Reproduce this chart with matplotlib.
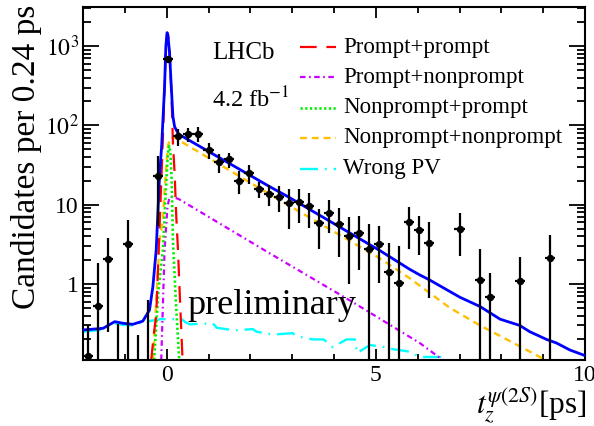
import numpy as np
import matplotlib
matplotlib.use("Agg")
import matplotlib.pyplot as plt
from matplotlib.ticker import LogLocator, NullFormatter, MultipleLocator

plt.rcParams['font.family'] = ['Liberation Serif', 'DejaVu Serif']
plt.rcParams['mathtext.fontset'] = 'stix'
plt.rcParams['lines.scale_dashes'] = False

# ---------------- data ----------------
bin_centers = [-1.88, -1.64, -1.40, -1.16, -0.92, -0.68, -0.44, -0.20, 0.04, 0.28,
               0.52, 0.76, 1.00, 1.24, 1.48, 1.72, 1.96, 2.20, 2.44, 2.68,
               2.92, 3.16, 3.40, 3.64, 3.88, 4.12, 4.36, 4.60, 4.84, 5.08,
               5.32, 5.56, 5.80, 6.04, 6.28, 7.00, 7.48, 7.72, 8.44, 9.16]
counts = [0.125, 0.53, 2.05, 0.0, 3.19, 0.0, 0.0, 23.2, 681, 72.8,
          77.2, 78, 49, 34.3, 37.3, 20.1, 24.9, 15.6, 13.5, 12.6,
          10.4, 10.9, 9.6, 5.8, 7.9, 5.7, 4.0, 4.36, 2.76, 3.17,
          1.40, 1.02, 6.0, 4.8, 3.32, 4.99, 1.13, 0.69, 1.10, 2.11]
count_err = [0.18, 1.33, 1.8, 0.31, 3.2, 0.23, 0.63, 17.8, 60, 18,
             16, 16, 11, 9, 8, 6.5, 6.7, 3.5, 4, 4.5,
             5.4, 5, 4.5, 3, 3.5, 3.5, 3, 2.85, 2.9, 2.15,
             1.9, 1.95, 3.25, 2.5, 2.65, 2.75, 1.63, 0.7, 1.1, 2.05]
bin_half_width = 0.12

total_x = [-2.0, -1.52, -1.24, -1.05, -0.81, -0.57, -0.41, -0.33, -0.25, -0.17,
           -0.12, -0.05, -0.02, 0.01, 0.03, 0.07, 0.11, 0.15, 0.19, 0.27,
           0.31, 2.46, 2.90, 5.10, 5.81, 6.05, 6.29, 7.01, 7.49, 7.97,
           8.44, 8.68, 9.08, 9.32, 9.64, 10.0]
total_y = [0.263, 0.276, 0.335, 0.32, 0.31, 0.34, 0.47, 0.92, 2.7, 23,
           55, 307, 980, 1476, 1380, 810, 307, 129, 96, 80,
           76, 16.9, 12.6, 2.63, 1.53, 1.30, 1.12, 0.68, 0.52, 0.36,
           0.30, 0.25, 0.20, 0.18, 0.147, 0.125]

pp_x = [-0.37, -0.30, -0.25, -0.20, -0.15, -0.10, -0.05, -0.02, 0.01, 0.04,
        0.07, 0.11, 0.15, 0.19, 0.23, 0.27, 0.32, 0.38]
pp_y = [0.11, 0.25, 0.4, 2.0, 10, 50, 300, 950, 1450, 1300,
        800, 290, 60, 25, 7, 2.7, 0.6, 0.11]

pnp_x = [-0.13, -0.05, 0.02, 0.07, 0.20, 0.31, 2.46, 4.38, 6.05, 6.60]
pnp_y = [0.11, 2.7, 9.4, 12.6, 12.3, 11.6, 2.44, 0.62, 0.18, 0.11]

npp_x = [-0.30, -0.20, -0.09, -0.03, 0.03, 0.06, 0.09, 0.12, 0.15, 0.22, 0.30]
npp_y = [0.11, 0.8, 2.7, 12, 45, 55, 45, 20, 3.5, 0.6, 0.11]

npnp_x = [-0.33, -0.28, -0.17, -0.09, -0.05, 0.03, 0.10, 0.20, 0.31, 2.70,
          5.10, 5.81, 6.77, 7.49, 8.21, 8.92, 9.05]
npnp_y = [0.11, 0.3, 3.6, 6.4, 15, 56, 70, 70, 64, 11.4,
          2.1, 1.18, 0.5, 0.3, 0.19, 0.12, 0.11]

wpv_x = [-2.0, -1.52, -1.24, -1.05, -0.81, -0.57, -0.15, 0.35, 0.45, 0.55,
         1.10, 1.20, 1.63, 2.06, 2.15, 2.54, 3.01, 3.10, 3.49, 3.75,
         3.97, 4.30, 4.50, 4.55, 4.86, 5.20, 5.26, 5.81, 6.05, 6.60, 6.70]
wpv_y = [0.25, 0.265, 0.32, 0.305, 0.30, 0.33, 0.36, 0.36, 0.33, 0.31,
         0.32, 0.28, 0.26, 0.27, 0.25, 0.23, 0.24, 0.22, 0.20, 0.20,
         0.16, 0.20, 0.20, 0.135, 0.17, 0.16, 0.155, 0.14, 0.12, 0.12, 0.10]

legend_labels = ['Prompt+prompt', 'Prompt+nonprompt', 'Nonprompt+prompt',
                 'Nonprompt+nonprompt', 'Wrong PV']

# ---------------- figure ----------------
W, H = 594, 426
fig = plt.figure(figsize=(W / 100, H / 100), dpi=100)
ax = fig.add_axes([83 / W, 66 / H, 502 / W, 352.7 / H])

styles = [
    dict(color='#ff0000', lw=1.6, dashes=(12, 7)),
    dict(color='#cc00ff', lw=1.6, dashes=(4, 2.5, 1.2, 2.5)),
    dict(color='#00ee00', lw=1.9, dashes=(1.6, 1.8)),
    dict(color='#ffc000', lw=1.7, dashes=(5, 3.5)),
    dict(color='#00ffff', lw=1.7, dashes=(13, 5, 1.2, 5)),
]
comps = [(pp_x, pp_y), (pnp_x, pnp_y), (npp_x, npp_y), (npnp_x, npnp_y), (wpv_x, wpv_y)]
draw_order = [4, 1, 3, 2, 0]
for i in draw_order:
    cxs, cys = comps[i]
    ax.plot(cxs, cys, **styles[i])

ax.plot(total_x, total_y, color='#0000ff', lw=2.0, zorder=3)

ax.errorbar(bin_centers, counts, yerr=count_err, xerr=bin_half_width,
            fmt='o', color='black', ms=4.3, elinewidth=1.6, capsize=0, zorder=4)

ax.set_yscale('log')
ax.set_xlim(-2, 10)
ax.set_ylim(0.11, 3080)

ax.set_xticks([0, 5, 10], labels=['0', '5', '10'])
ax.xaxis.set_minor_locator(MultipleLocator(1))
ax.set_yticks([1, 10, 100, 1000], labels=['1', '10', r'$10^{2}$', r'$10^{3}$'])
ax.yaxis.set_minor_locator(LogLocator(base=10, subs=np.arange(2, 10)))
ax.yaxis.set_minor_formatter(NullFormatter())

ax.tick_params(axis='both', which='both', direction='in', top=True, right=True,
               width=1.3, labelsize=17)
ax.tick_params(axis='y', which='major', length=11.5, pad=3)
ax.tick_params(axis='y', which='minor', length=5.8)
ax.tick_params(axis='x', which='major', length=8, pad=3.5)
ax.tick_params(axis='x', which='minor', length=4.3)
for s in ax.spines.values():
    s.set_linewidth(1.5)

# legend drawn manually
def ax_x(px):
    return (px - 83) / 502

def ax_y(py):
    return (360 - py) / 352.7

rows = [47, 77, 107.5, 138, 168.5]
for i, (lab, py) in enumerate(zip(legend_labels, rows)):
    ax.plot([ax_x(300), ax_x(336)], [ax_y(py), ax_y(py)], transform=ax.transAxes,
            clip_on=False, **styles[i])
    ax.text(ax_x(343), ax_y(py), lab, transform=ax.transAxes, fontsize=16.5,
            ha='left', va='center')

ax.text(ax_x(212), ax_y(53), 'LHCb', transform=ax.transAxes, fontsize=18,
        ha='left', va='center')
ax.text(ax_x(212), ax_y(100), r'4.2 fb$^{-1}$', transform=ax.transAxes, fontsize=17.5,
        ha='left', va='center')
ax.text(ax_x(187), ax_y(314), 'preliminary', transform=ax.transAxes, fontsize=26,
        ha='left', va='baseline')

fig.text(27 / W, 1 - 5 / H, 'Candidates per 0.24 ps', rotation=90, fontsize=24,
         ha='center', va='top')
fig.text(586 / W, 12.5 / H, r'$t_z^{\psi(2S)}$[ps]', fontsize=22.5, ha='right', va='baseline')

fig.savefig('out.png', dpi=100)
